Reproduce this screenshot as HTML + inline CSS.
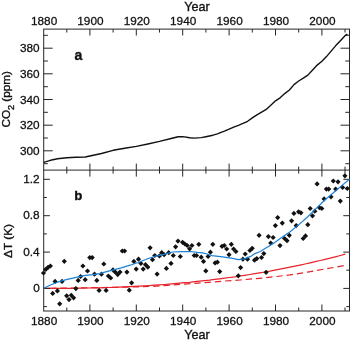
<!DOCTYPE html><html><head><meta charset="utf-8"><style>html,body{margin:0;padding:0;background:#fff;overflow:hidden}body{width:350px;height:342px;position:relative;font-family:"Liberation Sans",sans-serif}svg text{font-family:"Liberation Sans",sans-serif}svg{will-change:transform}</style></head><body><svg width="350" height="342" viewBox="0 0 350 342" style="position:absolute;left:0;top:0">

<g stroke="#262626" stroke-width="1" fill="none">
<rect x="43.7" y="29.1" width="305.8" height="281.9"/>
<line x1="43.7" y1="170.1" x2="349.5" y2="170.1"/>
<line x1="66.8" y1="29.1" x2="66.8" y2="32.5"/>
<line x1="66.8" y1="166.6" x2="66.8" y2="173.6"/>
<line x1="66.8" y1="311.0" x2="66.8" y2="307.5"/>
<line x1="89.9" y1="29.1" x2="89.9" y2="35.5"/>
<line x1="89.9" y1="163.6" x2="89.9" y2="176.6"/>
<line x1="89.9" y1="311.0" x2="89.9" y2="304.5"/>
<line x1="113.1" y1="29.1" x2="113.1" y2="32.5"/>
<line x1="113.1" y1="166.6" x2="113.1" y2="173.6"/>
<line x1="113.1" y1="311.0" x2="113.1" y2="307.5"/>
<line x1="136.3" y1="29.1" x2="136.3" y2="35.5"/>
<line x1="136.3" y1="163.6" x2="136.3" y2="176.6"/>
<line x1="136.3" y1="311.0" x2="136.3" y2="304.5"/>
<line x1="159.5" y1="29.1" x2="159.5" y2="32.5"/>
<line x1="159.5" y1="166.6" x2="159.5" y2="173.6"/>
<line x1="159.5" y1="311.0" x2="159.5" y2="307.5"/>
<line x1="182.7" y1="29.1" x2="182.7" y2="35.5"/>
<line x1="182.7" y1="163.6" x2="182.7" y2="176.6"/>
<line x1="182.7" y1="311.0" x2="182.7" y2="304.5"/>
<line x1="205.9" y1="29.1" x2="205.9" y2="32.5"/>
<line x1="205.9" y1="166.6" x2="205.9" y2="173.6"/>
<line x1="205.9" y1="311.0" x2="205.9" y2="307.5"/>
<line x1="229.1" y1="29.1" x2="229.1" y2="35.5"/>
<line x1="229.1" y1="163.6" x2="229.1" y2="176.6"/>
<line x1="229.1" y1="311.0" x2="229.1" y2="304.5"/>
<line x1="252.3" y1="29.1" x2="252.3" y2="32.5"/>
<line x1="252.3" y1="166.6" x2="252.3" y2="173.6"/>
<line x1="252.3" y1="311.0" x2="252.3" y2="307.5"/>
<line x1="275.5" y1="29.1" x2="275.5" y2="35.5"/>
<line x1="275.5" y1="163.6" x2="275.5" y2="176.6"/>
<line x1="275.5" y1="311.0" x2="275.5" y2="304.5"/>
<line x1="298.7" y1="29.1" x2="298.7" y2="32.5"/>
<line x1="298.7" y1="166.6" x2="298.7" y2="173.6"/>
<line x1="298.7" y1="311.0" x2="298.7" y2="307.5"/>
<line x1="321.9" y1="29.1" x2="321.9" y2="35.5"/>
<line x1="321.9" y1="163.6" x2="321.9" y2="176.6"/>
<line x1="321.9" y1="311.0" x2="321.9" y2="304.5"/>
<line x1="345.0" y1="29.1" x2="345.0" y2="32.5"/>
<line x1="345.0" y1="166.6" x2="345.0" y2="173.6"/>
<line x1="345.0" y1="311.0" x2="345.0" y2="307.5"/>
<line x1="43.7" y1="163.7" x2="47.9" y2="163.7"/>
<line x1="349.5" y1="163.7" x2="345.3" y2="163.7"/>
<line x1="43.7" y1="150.8" x2="52.7" y2="150.8"/>
<line x1="349.5" y1="150.8" x2="340.5" y2="150.8"/>
<line x1="43.7" y1="138.0" x2="47.9" y2="138.0"/>
<line x1="349.5" y1="138.0" x2="345.3" y2="138.0"/>
<line x1="43.7" y1="125.2" x2="52.7" y2="125.2"/>
<line x1="349.5" y1="125.2" x2="340.5" y2="125.2"/>
<line x1="43.7" y1="112.3" x2="47.9" y2="112.3"/>
<line x1="349.5" y1="112.3" x2="345.3" y2="112.3"/>
<line x1="43.7" y1="99.5" x2="52.7" y2="99.5"/>
<line x1="349.5" y1="99.5" x2="340.5" y2="99.5"/>
<line x1="43.7" y1="86.7" x2="47.9" y2="86.7"/>
<line x1="349.5" y1="86.7" x2="345.3" y2="86.7"/>
<line x1="43.7" y1="73.8" x2="52.7" y2="73.8"/>
<line x1="349.5" y1="73.8" x2="340.5" y2="73.8"/>
<line x1="43.7" y1="61.0" x2="47.9" y2="61.0"/>
<line x1="349.5" y1="61.0" x2="345.3" y2="61.0"/>
<line x1="43.7" y1="48.2" x2="52.7" y2="48.2"/>
<line x1="349.5" y1="48.2" x2="340.5" y2="48.2"/>
<line x1="43.7" y1="35.3" x2="47.9" y2="35.3"/>
<line x1="349.5" y1="35.3" x2="345.3" y2="35.3"/>
<line x1="43.7" y1="306.6" x2="46.9" y2="306.6"/>
<line x1="349.5" y1="306.6" x2="346.3" y2="306.6"/>
<line x1="43.7" y1="288.4" x2="49.9" y2="288.4"/>
<line x1="349.5" y1="288.4" x2="343.3" y2="288.4"/>
<line x1="43.7" y1="270.2" x2="46.9" y2="270.2"/>
<line x1="349.5" y1="270.2" x2="346.3" y2="270.2"/>
<line x1="43.7" y1="252.1" x2="49.9" y2="252.1"/>
<line x1="349.5" y1="252.1" x2="343.3" y2="252.1"/>
<line x1="43.7" y1="233.9" x2="46.9" y2="233.9"/>
<line x1="349.5" y1="233.9" x2="346.3" y2="233.9"/>
<line x1="43.7" y1="215.7" x2="49.9" y2="215.7"/>
<line x1="349.5" y1="215.7" x2="343.3" y2="215.7"/>
<line x1="43.7" y1="197.5" x2="46.9" y2="197.5"/>
<line x1="349.5" y1="197.5" x2="346.3" y2="197.5"/>
<line x1="43.7" y1="179.3" x2="49.9" y2="179.3"/>
<line x1="349.5" y1="179.3" x2="343.3" y2="179.3"/>
</g>
<path d="M43.6 162.4 L50.5 160.3 L57.5 158.7 L66.8 157.8 L76.0 157.3 L85.3 157.0 L89.9 156.0 L101.5 153.5 L113.1 150.3 L124.7 148.2 L136.3 146.4 L147.9 144.0 L159.5 141.4 L171.1 138.5 L178.1 136.7 L182.7 136.6 L189.7 137.8 L194.3 138.1 L201.3 137.6 L205.9 136.7 L212.9 135.2 L217.5 133.8 L219.8 132.9 L224.4 131.2 L229.1 129.2 L233.7 127.1 L238.4 125.3 L243.0 123.4 L247.6 121.3 L252.3 117.9 L256.9 114.9 L261.6 112.1 L266.2 109.4 L270.8 105.2 L275.5 100.8 L280.1 97.8 L284.7 93.6 L289.4 90.0 L294.0 84.6 L298.7 81.0 L303.3 78.2 L307.9 75.1 L312.6 70.0 L317.2 65.1 L321.9 61.3 L326.5 56.6 L331.1 51.1 L335.8 45.6 L340.4 40.7 L345.0 35.7 L347.4 34.2" fill="none" stroke="#111" stroke-width="1.4" stroke-linejoin="round"/>
<path d="M43.6 288.3 L80.0 287.9 L110.0 287.4 L130.0 287.0 L150.0 286.5 L167.5 285.4 L185.0 284.1 L205.0 282.6 L222.5 281.2 L240.0 280.0 L265.0 277.8 L290.0 274.9 L307.5 272.1 L325.0 269.0 L345.3 265.4" fill="none" stroke="#e6222a" stroke-width="1.2" stroke-dasharray="6.4 3.9" stroke-dashoffset="3.7"/>
<path d="M43.6 288.4 L48.6 288.4 L53.7 288.4 L58.7 288.4 L63.7 288.3 L68.7 288.3 L73.8 288.3 L78.8 288.2 L83.8 288.1 L88.9 288.0 L93.9 287.9 L98.9 287.8 L103.9 287.6 L109.0 287.5 L114.0 287.3 L119.0 287.1 L124.1 286.9 L129.1 286.7 L134.1 286.4 L139.1 286.1 L144.2 285.8 L149.2 285.5 L154.2 285.2 L159.3 284.8 L164.3 284.5 L169.3 284.1 L174.3 283.6 L179.4 283.2 L184.4 282.7 L189.4 282.3 L194.4 281.7 L199.5 281.2 L204.5 280.6 L209.5 280.1 L214.6 279.4 L219.6 278.8 L224.6 278.2 L229.6 277.5 L234.7 276.8 L239.7 276.0 L244.7 275.3 L249.8 274.5 L254.8 273.7 L259.8 272.8 L264.8 272.0 L269.9 271.1 L274.9 270.1 L279.9 269.2 L285.0 268.2 L290.0 267.2 L295.0 266.2 L300.0 265.1 L305.1 264.0 L310.1 262.9 L315.1 261.7 L320.2 260.5 L325.2 259.3 L330.2 258.1 L335.2 256.8 L340.3 255.5 L345.3 254.2" fill="none" stroke="#e6222a" stroke-width="1.2"/>
<line x1="43.7" y1="288.4" x2="49.9" y2="288.4" stroke="#262626" stroke-width="1"/>
<g fill="#111">
<path d="M40.9 273.0L43.5 270.4L46.1 273.0L43.5 275.6Z"/>
<path d="M43.2 269.3L45.8 266.7L48.4 269.3L45.8 271.9Z"/>
<path d="M45.5 267.3L48.1 264.7L50.7 267.3L48.1 269.9Z"/>
<path d="M47.8 266.0L50.4 263.4L53.0 266.0L50.4 268.6Z"/>
<path d="M50.1 293.4L52.7 290.8L55.3 293.4L52.7 296.0Z"/>
<path d="M52.5 281.4L55.1 278.8L57.7 281.4L55.1 284.0Z"/>
<path d="M54.8 290.9L57.4 288.3L60.0 290.9L57.4 293.5Z"/>
<path d="M57.1 303.8L59.7 301.2L62.3 303.8L59.7 306.4Z"/>
<path d="M59.4 281.4L62.0 278.8L64.6 281.4L62.0 284.0Z"/>
<path d="M61.7 261.3L64.3 258.7L66.9 261.3L64.3 263.9Z"/>
<path d="M64.1 295.8L66.7 293.2L69.3 295.8L66.7 298.4Z"/>
<path d="M66.4 299.6L69.0 297.0L71.6 299.6L69.0 302.2Z"/>
<path d="M68.7 295.3L71.3 292.7L73.9 295.3L71.3 297.9Z"/>
<path d="M71.0 297.8L73.6 295.2L76.2 297.8L73.6 300.4Z"/>
<path d="M73.3 288.6L75.9 286.0L78.5 288.6L75.9 291.2Z"/>
<path d="M75.6 280.4L78.2 277.8L80.8 280.4L78.2 283.0Z"/>
<path d="M78.0 276.5L80.6 273.9L83.2 276.5L80.6 279.1Z"/>
<path d="M80.3 266.0L82.9 263.4L85.5 266.0L82.9 268.6Z"/>
<path d="M82.6 279.7L85.2 277.1L87.8 279.7L85.2 282.3Z"/>
<path d="M84.9 271.0L87.5 268.4L90.1 271.0L87.5 273.6Z"/>
<path d="M87.2 257.6L89.8 255.0L92.4 257.6L89.8 260.2Z"/>
<path d="M89.6 257.6L92.2 255.0L94.8 257.6L92.2 260.2Z"/>
<path d="M91.9 274.2L94.5 271.6L97.1 274.2L94.5 276.8Z"/>
<path d="M94.2 280.4L96.8 277.8L99.4 280.4L96.8 283.0Z"/>
<path d="M96.5 290.4L99.1 287.8L101.7 290.4L99.1 293.0Z"/>
<path d="M98.8 274.2L101.4 271.6L104.0 274.2L101.4 276.8Z"/>
<path d="M101.2 264.0L103.8 261.4L106.4 264.0L103.8 266.6Z"/>
<path d="M103.5 290.4L106.1 287.8L108.7 290.4L106.1 293.0Z"/>
<path d="M105.8 276.0L108.4 273.4L111.0 276.0L108.4 278.6Z"/>
<path d="M108.1 278.0L110.7 275.4L113.3 278.0L110.7 280.6Z"/>
<path d="M110.4 269.9L113.0 267.3L115.6 269.9L113.0 272.5Z"/>
<path d="M112.8 272.2L115.4 269.6L118.0 272.2L115.4 274.8Z"/>
<path d="M115.1 274.6L117.7 272.0L120.3 274.6L117.7 277.2Z"/>
<path d="M117.4 272.1L120.0 269.5L122.6 272.1L120.0 274.7Z"/>
<path d="M119.7 251.0L122.3 248.4L124.9 251.0L122.3 253.6Z"/>
<path d="M122.0 251.0L124.6 248.4L127.2 251.0L124.6 253.6Z"/>
<path d="M124.3 272.1L126.9 269.5L129.5 272.1L126.9 274.7Z"/>
<path d="M126.7 290.2L129.3 287.6L131.9 290.2L129.3 292.8Z"/>
<path d="M129.0 282.8L131.6 280.2L134.2 282.8L131.6 285.4Z"/>
<path d="M131.3 261.4L133.9 258.8L136.5 261.4L133.9 264.0Z"/>
<path d="M133.6 269.1L136.2 266.5L138.8 269.1L136.2 271.7Z"/>
<path d="M135.9 259.2L138.5 256.6L141.1 259.2L138.5 261.8Z"/>
<path d="M138.3 263.4L140.9 260.8L143.5 263.4L140.9 266.0Z"/>
<path d="M140.6 269.1L143.2 266.5L145.8 269.1L143.2 271.7Z"/>
<path d="M142.9 264.7L145.5 262.1L148.1 264.7L145.5 267.3Z"/>
<path d="M145.2 267.1L147.8 264.5L150.4 267.1L147.8 269.7Z"/>
<path d="M147.5 247.8L150.1 245.2L152.7 247.8L150.1 250.4Z"/>
<path d="M149.9 259.7L152.5 257.1L155.1 259.7L152.5 262.3Z"/>
<path d="M152.2 255.5L154.8 252.9L157.4 255.5L154.8 258.1Z"/>
<path d="M154.5 274.1L157.1 271.5L159.7 274.1L157.1 276.7Z"/>
<path d="M156.8 256.0L159.4 253.4L162.0 256.0L159.4 258.6Z"/>
<path d="M159.1 252.7L161.7 250.1L164.3 252.7L161.7 255.3Z"/>
<path d="M161.5 254.7L164.1 252.1L166.7 254.7L164.1 257.3Z"/>
<path d="M163.8 268.4L166.4 265.8L169.0 268.4L166.4 271.0Z"/>
<path d="M166.1 252.7L168.7 250.1L171.3 252.7L168.7 255.3Z"/>
<path d="M168.4 263.4L171.0 260.8L173.6 263.4L171.0 266.0Z"/>
<path d="M170.7 255.5L173.3 252.9L175.9 255.5L173.3 258.1Z"/>
<path d="M173.0 246.8L175.6 244.2L178.2 246.8L175.6 249.4Z"/>
<path d="M175.4 241.1L178.0 238.5L180.6 241.1L178.0 243.7Z"/>
<path d="M177.7 256.5L180.3 253.9L182.9 256.5L180.3 259.1Z"/>
<path d="M180.0 242.3L182.6 239.7L185.2 242.3L182.6 244.9Z"/>
<path d="M182.3 244.0L184.9 241.4L187.5 244.0L184.9 246.6Z"/>
<path d="M184.6 245.5L187.2 242.9L189.8 245.5L187.2 248.1Z"/>
<path d="M187.0 248.8L189.6 246.2L192.2 248.8L189.6 251.4Z"/>
<path d="M189.3 245.5L191.9 242.9L194.5 245.5L191.9 248.1Z"/>
<path d="M191.6 255.5L194.2 252.9L196.8 255.5L194.2 258.1Z"/>
<path d="M193.9 255.5L196.5 252.9L199.1 255.5L196.5 258.1Z"/>
<path d="M196.2 244.3L198.8 241.7L201.4 244.3L198.8 246.9Z"/>
<path d="M198.6 257.2L201.2 254.6L203.8 257.2L201.2 259.8Z"/>
<path d="M200.9 261.4L203.5 258.8L206.1 261.4L203.5 264.0Z"/>
<path d="M203.2 270.9L205.8 268.3L208.4 270.9L205.8 273.5Z"/>
<path d="M205.5 256.5L208.1 253.9L210.7 256.5L208.1 259.1Z"/>
<path d="M207.8 252.2L210.4 249.6L213.0 252.2L210.4 254.8Z"/>
<path d="M210.2 244.3L212.8 241.7L215.4 244.3L212.8 246.9Z"/>
<path d="M212.5 262.9L215.1 260.3L217.7 262.9L215.1 265.5Z"/>
<path d="M214.8 262.2L217.4 259.6L220.0 262.2L217.4 264.8Z"/>
<path d="M217.1 271.6L219.7 269.0L222.3 271.6L219.7 274.2Z"/>
<path d="M219.4 246.3L222.0 243.7L224.6 246.3L222.0 248.9Z"/>
<path d="M221.7 245.5L224.3 242.9L226.9 245.5L224.3 248.1Z"/>
<path d="M224.1 249.0L226.7 246.4L229.3 249.0L226.7 251.6Z"/>
<path d="M226.4 254.7L229.0 252.1L231.6 254.7L229.0 257.3Z"/>
<path d="M228.7 244.3L231.3 241.7L233.9 244.3L231.3 246.9Z"/>
<path d="M231.0 249.0L233.6 246.4L236.2 249.0L233.6 251.6Z"/>
<path d="M233.3 251.5L235.9 248.9L238.5 251.5L235.9 254.1Z"/>
<path d="M235.7 275.8L238.3 273.2L240.9 275.8L238.3 278.4Z"/>
<path d="M238.0 267.6L240.6 265.0L243.2 267.6L240.6 270.2Z"/>
<path d="M240.3 259.2L242.9 256.6L245.5 259.2L242.9 261.8Z"/>
<path d="M242.6 254.0L245.2 251.4L247.8 254.0L245.2 256.6Z"/>
<path d="M244.9 259.2L247.5 256.6L250.1 259.2L247.5 261.8Z"/>
<path d="M247.3 250.5L249.9 247.9L252.5 250.5L249.9 253.1Z"/>
<path d="M249.6 248.3L252.2 245.7L254.8 248.3L252.2 250.9Z"/>
<path d="M251.9 260.2L254.5 257.6L257.1 260.2L254.5 262.8Z"/>
<path d="M254.2 258.6L256.8 256.0L259.4 258.6L256.8 261.2Z"/>
<path d="M256.5 235.3L259.1 232.7L261.7 235.3L259.1 237.9Z"/>
<path d="M258.9 257.5L261.5 254.9L264.1 257.5L261.5 260.1Z"/>
<path d="M261.2 253.6L263.8 251.0L266.4 253.6L263.8 256.2Z"/>
<path d="M263.5 272.3L266.1 269.7L268.7 272.3L266.1 274.9Z"/>
<path d="M265.8 236.6L268.4 234.0L271.0 236.6L268.4 239.2Z"/>
<path d="M268.1 243.0L270.7 240.4L273.3 243.0L270.7 245.6Z"/>
<path d="M270.5 237.5L273.1 234.9L275.7 237.5L273.1 240.1Z"/>
<path d="M272.8 225.6L275.4 223.0L278.0 225.6L275.4 228.2Z"/>
<path d="M275.1 217.6L277.7 215.0L280.3 217.6L277.7 220.2Z"/>
<path d="M277.4 245.6L280.0 243.0L282.6 245.6L280.0 248.2Z"/>
<path d="M279.7 223.1L282.3 220.5L284.9 223.1L282.3 225.7Z"/>
<path d="M282.0 238.5L284.6 235.9L287.2 238.5L284.6 241.1Z"/>
<path d="M284.4 240.7L287.0 238.1L289.6 240.7L287.0 243.3Z"/>
<path d="M286.7 235.3L289.3 232.7L291.9 235.3L289.3 237.9Z"/>
<path d="M289.0 220.8L291.6 218.2L294.2 220.8L291.6 223.4Z"/>
<path d="M291.3 213.4L293.9 210.8L296.5 213.4L293.9 216.0Z"/>
<path d="M293.6 225.6L296.2 223.0L298.8 225.6L296.2 228.2Z"/>
<path d="M296.0 211.8L298.6 209.2L301.2 211.8L298.6 214.4Z"/>
<path d="M298.3 212.8L300.9 210.2L303.5 212.8L300.9 215.4Z"/>
<path d="M300.6 238.5L303.2 235.9L305.8 238.5L303.2 241.1Z"/>
<path d="M302.9 235.9L305.5 233.3L308.1 235.9L305.5 238.5Z"/>
<path d="M305.2 224.7L307.8 222.1L310.4 224.7L307.8 227.3Z"/>
<path d="M307.6 208.5L310.2 205.9L312.8 208.5L310.2 211.1Z"/>
<path d="M309.9 215.8L312.5 213.2L315.1 215.8L312.5 218.4Z"/>
<path d="M312.2 211.2L314.8 208.6L317.4 211.2L314.8 213.8Z"/>
<path d="M314.5 183.9L317.1 181.3L319.7 183.9L317.1 186.5Z"/>
<path d="M316.8 207.6L319.4 205.0L322.0 207.6L319.4 210.2Z"/>
<path d="M319.2 208.5L321.8 205.9L324.4 208.5L321.8 211.1Z"/>
<path d="M321.5 198.9L324.1 196.3L326.7 198.9L324.1 201.5Z"/>
<path d="M323.8 189.1L326.4 186.5L329.0 189.1L326.4 191.7Z"/>
<path d="M326.1 189.1L328.7 186.5L331.3 189.1L328.7 191.7Z"/>
<path d="M328.4 196.8L331.0 194.2L333.6 196.8L331.0 199.4Z"/>
<path d="M330.7 181.0L333.3 178.4L335.9 181.0L333.3 183.6Z"/>
<path d="M333.1 189.1L335.7 186.5L338.3 189.1L335.7 191.7Z"/>
<path d="M335.4 181.8L338.0 179.2L340.6 181.8L338.0 184.4Z"/>
<path d="M337.7 201.1L340.3 198.5L342.9 201.1L340.3 203.7Z"/>
<path d="M340.0 187.4L342.6 184.8L345.2 187.4L342.6 190.0Z"/>
<path d="M342.3 175.8L344.9 173.2L347.5 175.8L344.9 178.4Z"/>
<path d="M344.7 188.5L347.3 185.9L349.9 188.5L347.3 191.1Z"/>
</g>
<path d="M43.6 288.3 L50.5 285.0 L57.5 282.2 L66.3 279.7 L75.1 277.6 L83.9 275.7 L92.6 274.7 L100.0 273.6 L103.8 272.4 L112.5 270.1 L121.3 267.8 L130.1 265.2 L138.9 262.2 L147.6 258.7 L155.0 256.2 L158.8 255.6 L167.5 253.3 L172.8 252.0 L181.6 251.6 L190.4 251.5 L197.4 252.4 L202.6 252.9 L207.0 254.0 L212.0 255.6 L222.5 256.8 L231.3 258.1 L238.3 259.7 L244.5 258.9 L250.6 256.4 L255.0 253.6 L260.3 251.5 L265.5 248.3 L272.5 243.9 L281.3 237.8 L290.1 231.8 L298.9 224.6 L307.5 217.0 L316.0 208.6 L325.1 199.8 L334.0 192.2 L342.6 184.9 L349.5 179.3" fill="none" stroke="#1a80d6" stroke-width="1.2" stroke-linejoin="round"/>
<g class="t" fill="#111" stroke="#111" stroke-width="0.28" font-size="11.8">
<text x="44.1" y="24.7" text-anchor="middle">1880</text>
<text x="44.1" y="324.8" text-anchor="middle">1880</text>
<text x="90.4" y="24.7" text-anchor="middle">1900</text>
<text x="90.4" y="324.8" text-anchor="middle">1900</text>
<text x="136.8" y="24.7" text-anchor="middle">1920</text>
<text x="136.8" y="324.8" text-anchor="middle">1920</text>
<text x="183.2" y="24.7" text-anchor="middle">1940</text>
<text x="183.2" y="324.8" text-anchor="middle">1940</text>
<text x="229.6" y="24.7" text-anchor="middle">1960</text>
<text x="229.6" y="324.8" text-anchor="middle">1960</text>
<text x="276.0" y="24.7" text-anchor="middle">1980</text>
<text x="276.0" y="324.8" text-anchor="middle">1980</text>
<text x="322.4" y="24.7" text-anchor="middle">2000</text>
<text x="322.4" y="324.8" text-anchor="middle">2000</text>
<text x="39.7" y="155.0" text-anchor="end">300</text>
<text x="39.7" y="129.4" text-anchor="end">320</text>
<text x="39.7" y="103.7" text-anchor="end">340</text>
<text x="39.7" y="78.0" text-anchor="end">360</text>
<text x="39.7" y="52.4" text-anchor="end">380</text>
<text x="39.7" y="291.8" text-anchor="end">0</text>
<text x="39.7" y="255.5" text-anchor="end">0.4</text>
<text x="39.7" y="219.1" text-anchor="end">0.8</text>
<text x="39.7" y="182.7" text-anchor="end">1.2</text>
</g>
<g class="t" fill="#111" stroke="#111" stroke-width="0.35">
<text x="197.1" y="10.8" font-size="12.6" text-anchor="middle">Year</text>
<text x="197.1" y="338.9" font-size="12.6" text-anchor="middle">Year</text>
<text font-size="11.7" text-anchor="middle" transform="translate(10.4 99.3) rotate(-90)">CO<tspan font-size="9" dy="3.2">2</tspan><tspan dy="-3.2"> (ppm)</tspan></text>
<text font-size="11.8" text-anchor="middle" transform="translate(11.9 241.0) rotate(-90)">ΔT (K)</text>
<text x="78.3" y="60.2" font-size="14" font-weight="bold" text-anchor="middle">a</text>
<text x="78.4" y="200.1" font-size="13.3" font-weight="bold" text-anchor="middle">b</text>
</g>
</svg></body></html>
